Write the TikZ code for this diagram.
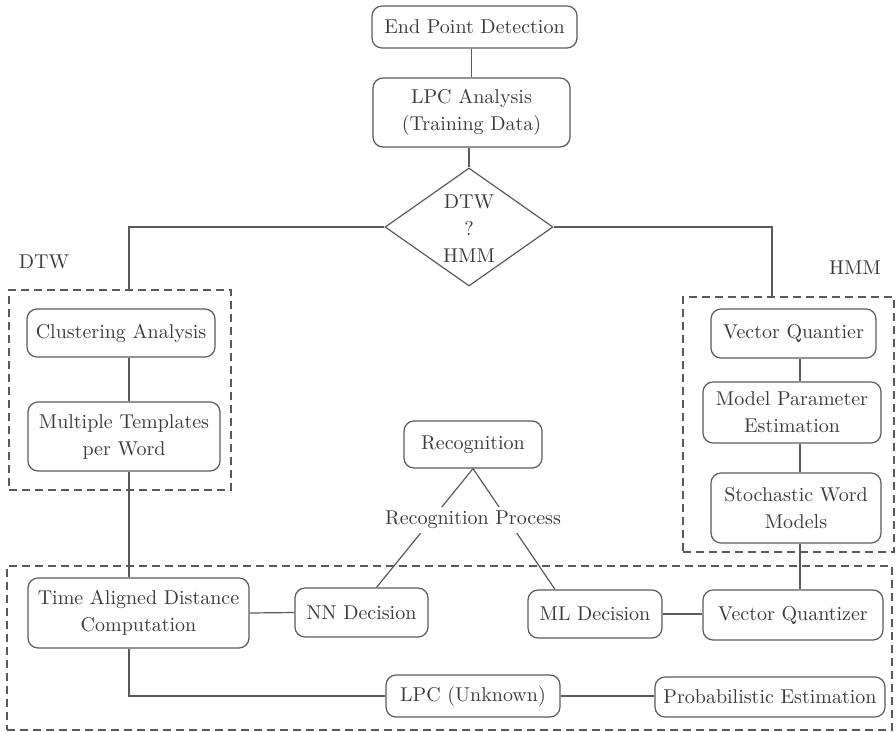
\documentclass[tikz,border=0pt]{standalone}
\usepackage{fontspec}
\setmainfont{lmroman10-regular.otf}
\usetikzlibrary{shapes.geometric,calc}
\definecolor{linec}{HTML}{5A5A5A}
\definecolor{textc}{HTML}{3A3A3A}
\tikzset{
  every node/.style={text=textc, font=\fontsize{20}{27}\selectfont},
  box/.style={draw=linec, line width=1.2pt, rounded corners=10pt, inner sep=0pt, align=center},
  dbox/.style={draw=linec, line width=1.2pt, dash pattern=on 8pt off 5pt, inner sep=0pt},
  dia/.style={draw=linec, line width=1.2pt, diamond, inner sep=0pt},
  conn/.style={draw=linec, line width=1.2pt},
  lbl/.style={align=center, inner sep=0pt}
}
\begin{document}
\begin{tikzpicture}[x=1pt,y=-1pt]
\useasboundingbox (0,0) rectangle (896,731);
% dashed groups
\node[dbox, minimum width=222pt, minimum height=200pt] (dtwbox) at (120,390) {};
\node[dbox, minimum width=211pt, minimum height=255pt] (hmmbox) at (788.5,424.5) {};
\node[dbox, minimum width=885pt, minimum height=164pt] (recbox) at (449.5,648) {};
\node[lbl] (dtwlbl) at (44,262) {DTW};
\node[lbl] (hmmlbl) at (855,268) {HMM};
% top
\node[box, minimum width=205pt, minimum height=42pt] (epd) at (474.5,27) {End Point Detection};
\node[box, minimum width=197pt, minimum height=69pt] (lpc) at (471.5,112.5) {LPC Analysis\\(Training Data)};
\node[dia, minimum width=168pt, minimum height=118pt] (dia) at (469,227) {};
\node[lbl] (diatext) at (469,229) {DTW\\?\\HMM};
% DTW column
\node[box, minimum width=188pt, minimum height=48pt] (cluster) at (121,333) {Clustering Analysis};
\node[box, minimum width=192pt, minimum height=69pt] (multi) at (124,436.5) {Multiple Templates\\per Word};
% HMM column
\node[box, minimum width=165pt, minimum height=49pt] (vqa) at (793.5,333.5) {Vector Quantier};
\node[box, minimum width=178pt, minimum height=61pt] (mpe) at (792,412.5) {Model Parameter\\Estimation};
\node[box, minimum width=170pt, minimum height=70pt] (swm) at (796,508) {Stochastic Word\\Models};
% recognition
\node[box, minimum width=138pt, minimum height=47pt] (recog) at (473,444.5) {Recognition};
\node[box, minimum width=221pt, minimum height=70pt] (tad) at (138.5,613) {Time Aligned Distance\\Computation};
\node[box, minimum width=133pt, minimum height=49pt] (nn) at (361.5,612.5) {NN Decision};
\node[box, minimum width=134pt, minimum height=48pt] (ml) at (595,614) {ML Decision};
\node[box, minimum width=180pt, minimum height=50pt] (vqb) at (793,615) {Vector Quantizer};
\node[box, minimum width=174pt, minimum height=42pt] (lpcu) at (473,696) {LPC (Unknown)};
\node[box, minimum width=230pt, minimum height=40pt] (prob) at (770,697) {Probabilistic Estimation};
% column coordinates
\coordinate (dtwtop) at (129,290);
\coordinate (hmmtop) at (772,297);
\coordinate (hmmcol) at (800,0);
% connectors
\draw[conn] (lpc.north |- epd.south) -- (lpc.north);
\draw[conn] (dia.north |- lpc.south) -- (dia.north);
\draw[conn] (dia.west) -| (dtwtop);
\draw[conn] (dia.east) -| (hmmtop);
\draw[conn] (cluster.south -| dtwtop) -- (multi.north -| dtwtop);
\draw[conn] (multi.south -| dtwtop) -- (tad.north -| dtwtop);
\draw[conn] (tad.south -| dtwtop) |- (lpcu.west);
\draw[conn] (vqa.south -| hmmcol) -- (mpe.north -| hmmcol);
\draw[conn] (mpe.south -| hmmcol) -- (swm.north -| hmmcol);
\draw[conn] (swm.south -| hmmcol) -- (vqb.north -| hmmcol);
\draw[conn] (tad.east) -- (nn.west);
\draw[conn] (ml.east) -- (vqb.west |- ml.east);
\draw[conn] (lpcu.east) -- (prob.west |- lpcu.east);
\draw[conn] (recog.south) -- ($(nn.north)+(15,0)$);
\draw[conn] (recog.south) -- ($(ml.north)+(-40,0)$);
\node[lbl, fill=white, inner sep=4pt] (rp) at (473,520) {Recognition Process};
\end{tikzpicture}
\end{document}
